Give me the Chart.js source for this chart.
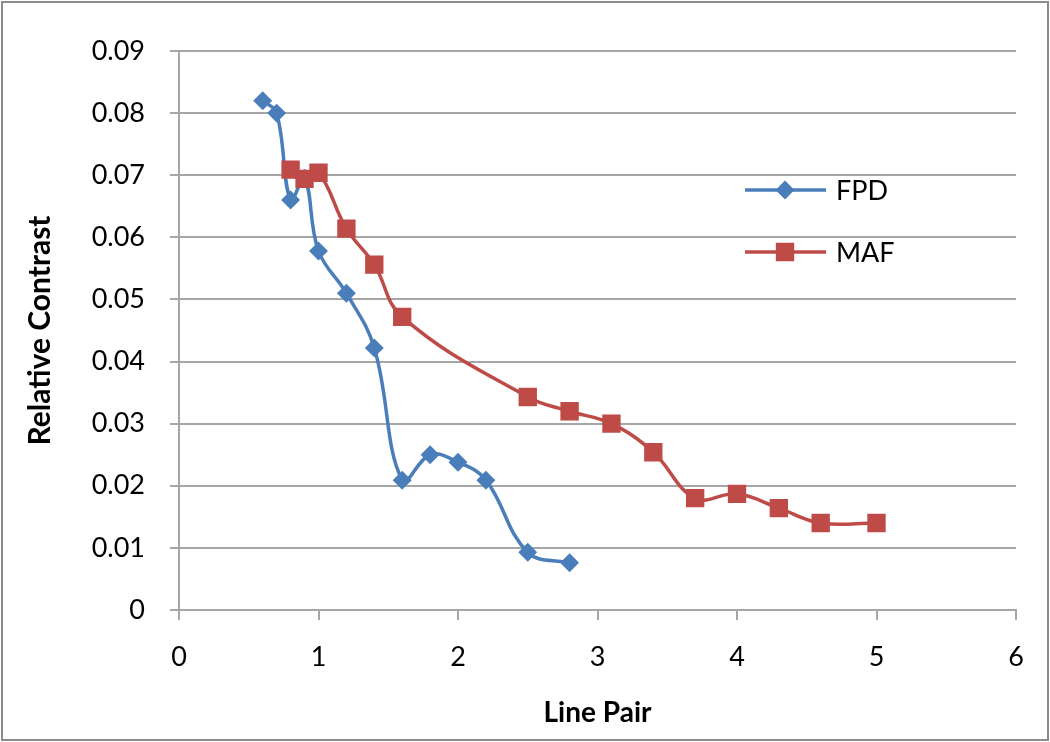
<!DOCTYPE html>
<html>
<head>
<meta charset="utf-8">
<script src="https://cdn.jsdelivr.net/npm/chart.js@4"></script>
<style>
  html, body { margin: 0; padding: 0; background: #fff; }
  canvas { display: block; }
</style>
</head>
<body>
<canvas id="contrastChart" width="1050" height="742"></canvas>
<script>
// values
const fpdX = [0.6, 0.7, 0.8, 0.9, 1.0, 1.2, 1.4, 1.6, 1.8, 2.0, 2.2, 2.5, 2.8];
const fpdY = [0.082, 0.080, 0.066, 0.0695, 0.0578, 0.051, 0.0422, 0.0209, 0.025, 0.0238, 0.0209, 0.0093, 0.0076];
const mafX = [0.8, 0.9, 1.0, 1.2, 1.4, 1.6, 2.5, 2.8, 3.1, 3.4, 3.7, 4.0, 4.3, 4.6, 5.0];
const mafY = [0.0709, 0.0694, 0.0704, 0.0614, 0.0556, 0.0472, 0.0343, 0.032, 0.030, 0.0254, 0.018, 0.0187, 0.0164, 0.014, 0.014];
const seriesNames = ['FPD', 'MAF'];
const xTitle = 'Line Pair';
const yTitle = 'Relative Contrast';

const toPoints = (xs, ys) => xs.map((x, i) => ({ x: x, y: ys[i] }));

const fontFamily = 'Lato, "Open Sans", sans-serif';
const gridGrey = '#a6a6a6';

// white background and thin outer frame
const framePlugin = {
    id: 'frame',
    beforeDraw(chart) {
        const ctx = chart.ctx;
        ctx.save();
        ctx.fillStyle = '#fff';
        ctx.fillRect(0, 0, chart.width, chart.height);
        ctx.strokeStyle = '#8c8c8c';
        ctx.lineWidth = 2;
        ctx.strokeRect(2, 2, chart.width - 4, chart.height - 4);
        ctx.restore();
    }
};

// legend drawn inside the plot, right side
const innerLegend = {
    id: 'innerLegend',
    afterDraw(chart) {
        const ctx = chart.ctx;
        const a = chart.chartArea;
        chart.data.datasets.forEach((ds, i) => {
            const y = a.top + 139 + i * 62;
            const x0 = a.left + 566;
            ctx.save();
            ctx.strokeStyle = ds.borderColor;
            ctx.lineWidth = ds.borderWidth;
            ctx.beginPath();
            ctx.moveTo(x0, y);
            ctx.lineTo(x0 + 81, y);
            ctx.stroke();
            Chart.helpers.drawPoint(ctx, {
                pointStyle: ds.pointStyle,
                radius: ds.pointRadius,
                borderWidth: 1
            }, x0 + 40, y);
            ctx.fillStyle = ds.pointBackgroundColor;
            ctx.fill();
            ctx.fillStyle = '#000';
            ctx.font = '27px ' + fontFamily;
            ctx.textBaseline = 'middle';
            ctx.fillText(ds.label, x0 + 91, y + 1);
            ctx.restore();
        });
    }
};

new Chart(document.getElementById('contrastChart'), {
    type: 'scatter',
    data: {
        datasets: [{
            label: seriesNames[0],
            data: toPoints(fpdX, fpdY),
            order: 1,
            showLine: true,
            borderColor: '#4a7ebb',
            backgroundColor: '#4a7ebb',
            pointBackgroundColor: '#4a7ebb',
            pointBorderColor: '#4a7ebb',
            borderWidth: 3.5,
            pointStyle: 'rectRot',
            pointRadius: 7,
            tension: 0.4
        }, {
            label: seriesNames[1],
            data: toPoints(mafX, mafY),
            order: 0,
            showLine: true,
            borderColor: '#be4b48',
            backgroundColor: '#be4b48',
            pointBackgroundColor: '#be4b48',
            pointBorderColor: '#be4b48',
            borderWidth: 3.5,
            pointStyle: 'rect',
            pointRadius: 10.5,
            tension: 0.4
        }]
    },
    options: {
        responsive: false,
        animation: false,
        layout: { padding: { left: 20, top: 51, right: 34, bottom: 10 } },
        plugins: {
            legend: { display: false },
            tooltip: { enabled: false }
        },
        scales: {
            x: {
                type: 'linear',
                min: 0,
                max: 6,
                ticks: {
                    stepSize: 1,
                    color: '#000',
                    padding: 21,
                    font: { family: fontFamily, size: 27 }
                },
                grid: {
                    drawOnChartArea: false,
                    color: gridGrey,
                    lineWidth: 2,
                    tickLength: 10
                },
                border: { color: gridGrey, width: 2 },
                title: {
                    display: true,
                    text: xTitle,
                    color: '#000',
                    font: { family: fontFamily, size: 28, weight: 'bold' },
                    padding: { top: 0, bottom: 2 }
                },
                afterFit(scale) { scale.height = 122; }
            },
            y: {
                min: 0,
                max: 0.09,
                ticks: {
                    stepSize: 0.01,
                    color: '#000',
                    padding: 25,
                    font: { family: fontFamily, size: 27 },
                    callback: (v) => (v === 0 ? '0' : v.toFixed(2))
                },
                grid: {
                    color: gridGrey,
                    lineWidth: 2,
                    tickLength: 9
                },
                border: { color: gridGrey, width: 2 },
                title: {
                    display: true,
                    text: yTitle,
                    color: '#000',
                    font: { family: fontFamily, size: 30, weight: 'bold' },
                    padding: { top: 2, bottom: 0 }
                },
                afterFit(scale) { scale.width = 159; }
            }
        }
    },
    plugins: [framePlugin, innerLegend]
});
</script>
</body>
</html>
